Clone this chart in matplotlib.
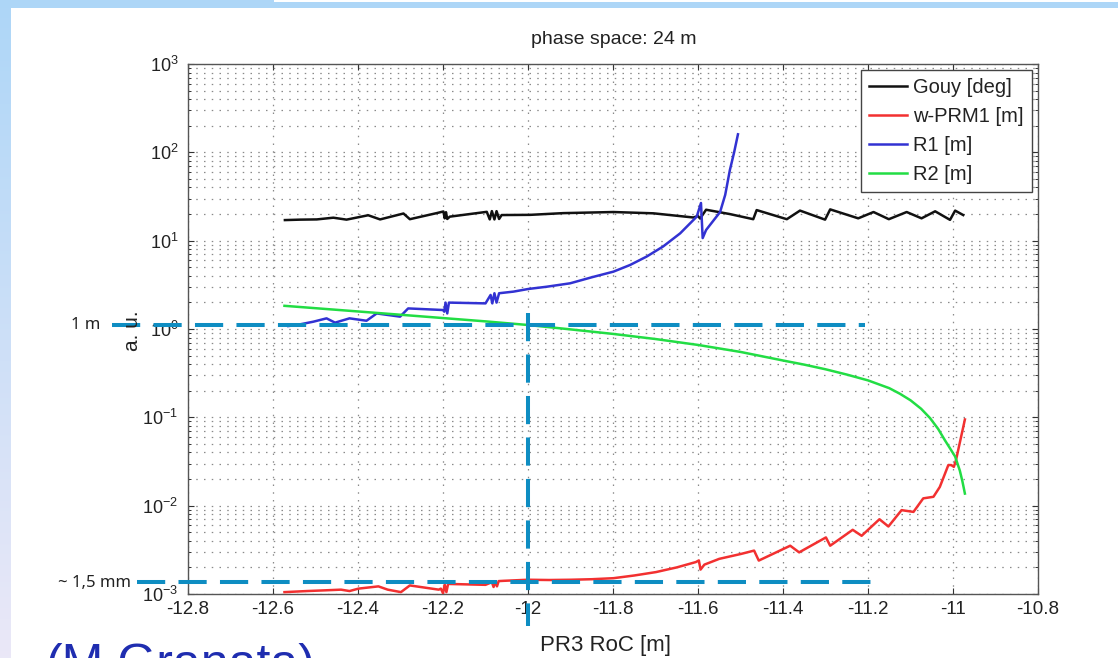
import numpy as np
import matplotlib
matplotlib.use('Agg')
import matplotlib.pyplot as plt
from matplotlib.ticker import FixedLocator, NullFormatter

# ---------------- data ----------------
gouy_x = [-12.572, -12.536, -12.497, -12.458, -12.427, -12.376, -12.348, -12.293, -12.278,
          -12.215, -12.199, -12.196, -12.193, -12.190, -12.184, -12.097, -12.090, -12.085,
          -12.079, -12.074, -12.068, -12.062, -11.995, -11.917, -11.799, -11.705, -11.611,
          -11.600, -11.595, -11.581, -11.525, -11.470, -11.462, -11.391, -11.360, -11.301,
          -11.289, -11.223, -11.187, -11.151, -11.109, -11.074, -11.042, -11.007, -10.995,
          -10.976]
gouy_y = [17.1, 17.3, 17.4, 18.2, 17.3, 19.4, 17.4, 20.3, 17.5,
          20.5, 21.4, 17.9, 21.0, 17.6, 18.7, 21.2, 17.4, 21.6,
          17.4, 21.6, 17.6, 19.5, 19.6, 20.5, 21.1, 20.4, 18.3,
          19.0, 17.8, 22.4, 20.0, 17.5, 22.2, 17.5, 21.9, 17.3,
          22.6, 17.9, 21.1, 17.5, 21.1, 17.9, 21.5, 17.2, 21.9,
          19.5]

wprm_x = [-12.573, -12.52, -12.478, -12.44, -12.42, -12.399, -12.352, -12.33, -12.299,
          -12.278, -12.21, -12.205, -12.200, -12.196, -12.192, -12.188, -12.10, -12.085,
          -12.081, -12.077, -12.073, -12.069, -12.057, -12.0, -11.95, -11.899, -11.85,
          -11.799, -11.75, -11.699, -11.65, -11.605, -11.598, -11.594, -11.585, -11.55,
          -11.499, -11.468, -11.457, -11.383, -11.362, -11.299, -11.289, -11.236, -11.215,
          -11.173, -11.152, -11.121, -11.093, -11.070, -11.046, -11.031, -11.011, -11.004,
          -10.998, -10.993, -10.972]
wprm_y = [1.05e-3, 1.08e-3, 1.10e-3, 1.12e-3, 1.08e-3, 1.15e-3, 1.22e-3, 1.12e-3, 1.05e-3,
          1.25e-3, 1.12e-3, 1.15e-3, 1.02e-3, 1.28e-3, 1.05e-3, 1.30e-3, 1.27e-3, 1.36e-3,
          1.20e-3, 1.38e-3, 1.22e-3, 1.40e-3, 1.41e-3, 1.45e-3, 1.44e-3, 1.45e-3, 1.47e-3,
          1.51e-3, 1.62e-3, 1.77e-3, 2.0e-3, 2.3e-3, 2.4e-3, 1.89e-3, 2.15e-3, 2.5e-3,
          2.84e-3, 3.10e-3, 2.39e-3, 3.52e-3, 2.96e-3, 4.37e-3, 3.52e-3, 5.33e-3, 4.56e-3,
          7.02e-3, 5.81e-3, 8.9e-3, 8.5e-3, 1.21e-2, 1.26e-2, 1.63e-2, 2.88e-2, 2.88e-2,
          2.75e-2, 3.27e-2, 9.46e-2]

r1_x = [-12.564, -12.54, -12.505, -12.474, -12.454, -12.42, -12.38, -12.356, -12.301,
        -12.282, -12.20, -12.197, -12.194, -12.190, -12.186, -12.10, -12.088, -12.084,
        -12.079, -12.074, -12.068, -12.034, -11.999, -11.956, -11.901, -11.850, -11.799,
        -11.760, -11.721, -11.682, -11.642, -11.603, -11.593, -11.589, -11.581, -11.548,
        -11.536, -11.525, -11.515, -11.506]
r1_y = [1.08, 1.12, 1.21, 1.32, 1.18, 1.32, 1.24, 1.50, 1.38,
        1.71, 1.64, 1.57, 1.99, 1.50, 1.99, 1.95, 2.43, 1.95,
        2.54, 1.99, 2.54, 2.65, 2.84, 3.01, 3.29, 3.85, 4.46,
        5.3, 6.6, 8.6, 12.1, 18.7, 26.7, 10.7, 13.2, 21.1,
        33.0, 63.0, 100.0, 160.0]

r2_x = [-12.573, -12.5, -12.4, -12.3, -12.2, -12.1, -12.0, -11.9, -11.8, -11.7, -11.6,
        -11.5, -11.4, -11.35, -11.3, -11.25, -11.2, -11.15, -11.125, -11.1, -11.075,
        -11.054, -11.035, -11.019, -11.005, -10.995, -10.984, -10.978, -10.972]
r2_y = [1.83, 1.72, 1.58, 1.45, 1.33, 1.22, 1.11, 0.99, 0.88, 0.77, 0.66,
        0.55, 0.44, 0.395, 0.35, 0.305, 0.262, 0.214, 0.185, 0.156, 0.125,
        0.098, 0.074, 0.055, 0.043, 0.036, 0.025, 0.019, 0.0137]

series_labels = ['Gouy [deg]', 'w-PRM1 [m]', 'R1 [m]', 'R2 [m]']

x_ticks = [-12.8, -12.6, -12.4, -12.2, -12.0, -11.8, -11.6, -11.4, -11.2, -11.0, -10.8]
x_tick_labels = ['-12.8', '-12.6', '-12.4', '-12.2', '-12', '-11.8', '-11.6', '-11.4',
                 '-11.2', '-11', '-10.8']
y_ticks = [1e-3, 1e-2, 1e-1, 1e0, 1e1, 1e2, 1e3]
y_tick_labels = [r'$10^{-3}$', r'$10^{-2}$', r'$10^{-1}$', r'$10^{0}$', r'$10^{1}$',
                 r'$10^{2}$', r'$10^{3}$']

# annotation lines drawn over the slide
ann_h1_x = [-12.98, -11.207]
ann_h1_y = [1.12, 1.12]
ann_h2_x = [-12.919, -11.172]
ann_h2_y = [1.36e-3, 1.36e-3]
ann_v_x = [-12.0, -12.0]
ann_v_y = [1.51, 4.3e-4]

# ---------------- figure ----------------
plt.rcParams['font.family'] = ['Liberation Sans', 'DejaVu Sans']
plt.rcParams['mathtext.fontset'] = 'custom'
plt.rcParams['mathtext.rm'] = 'Liberation Sans'
plt.rcParams['mathtext.it'] = 'Liberation Sans:italic'
plt.rcParams['mathtext.bf'] = 'Liberation Sans:bold'

W, H = 1118, 658
fig = plt.figure(figsize=(W / 100, H / 100), dpi=100)
fig.patch.set_facecolor('white')

# slide decorations: left strip gradient and top band
strip_w = 11
top = np.array([0.68, 0.84, 0.97])
bot = np.array([0.92, 0.91, 0.97])
t = np.linspace(0, 1, H)[:, None]
grad = (top[None, :] * (1 - t) + bot[None, :] * t)
strip = np.repeat(grad[:, None, :], strip_w, axis=1)
fig.figimage(strip, xo=0, yo=0, origin='upper', zorder=0)
band = np.ones((8, W, 3)) * np.array([0.68, 0.84, 0.97])
band[0:2, 274:, :] = 1.0
fig.figimage(band, xo=0, yo=H - 8, origin='upper', zorder=0)

ax = fig.add_axes([188 / W, 1 - 594 / H, 850 / W, 530 / H])
ax.set_yscale('log')
ax.set_xlim(-12.8, -10.8)
ax.set_ylim(1e-3, 1e3)

lw = 1.8
ax.plot(gouy_x, gouy_y, color='#111111', lw=lw, label=series_labels[0], zorder=3)
ax.plot(wprm_x, wprm_y, color='#f23030', lw=lw, label=series_labels[1], zorder=3)
ax.plot(r1_x, r1_y, color='#3232d2', lw=lw, label=series_labels[2], zorder=3)
ax.plot(r2_x, r2_y, color='#22dd44', lw=lw, label=series_labels[3], zorder=3)

ax.xaxis.set_major_locator(FixedLocator(x_ticks))
ax.set_xticklabels(x_tick_labels)
ax.yaxis.set_major_locator(FixedLocator(y_ticks))
ax.set_yticklabels(y_tick_labels)
minor = [m * 10.0 ** e for e in range(-3, 3) for m in range(2, 10)]
ax.yaxis.set_minor_locator(FixedLocator(minor))
ax.yaxis.set_minor_formatter(NullFormatter())

ax.tick_params(which='both', direction='in', top=True, right=True, colors='#333333')
ax.tick_params(which='major', length=4.5, width=0.8)
ax.tick_params(which='minor', length=2.5, width=0.7)
ax.tick_params(axis='x', labelsize=13.5, pad=5)
ax.tick_params(axis='y', labelsize=13, pad=7)
for lab in ax.get_xticklabels() + ax.get_yticklabels():
    lab.set_color('#222222')

grid_style = dict(linestyle=(0, (1.2, 5)), color='#8a8a8a', linewidth=0.9)
ax.grid(True, which='major', **grid_style)
ax.grid(True, which='minor', axis='y', **grid_style)
ax.set_axisbelow(True)
for s in ax.spines.values():
    s.set_color('#555555')
    s.set_linewidth(1.0)

leg = ax.legend(loc='upper right', fontsize=14.5, fancybox=False, framealpha=1,
                edgecolor='#444444', borderaxespad=0.3, handlelength=1.9,
                handletextpad=0.3, labelspacing=0.5, borderpad=0.4)
leg.get_frame().set_linewidth(1.0)
for txt in leg.get_texts():
    txt.set_color('#222222')

# texts
fig.text(614 / W, 1 - 40 / H, 'phase space: 24 m', ha='center', va='center',
         fontsize=14, color='#222222')
fig.text(606 / W, 1 - 645 / H, 'PR3 RoC [m]', ha='center', va='center',
         fontsize=16, color='#222222')
fig.text(132 / W, 1 - 331 / H, 'a. u.', ha='center', va='center', rotation=90,
         fontsize=15, color='#222222')

# annotation dashed lines (slide overlay)
ann_style = dict(color='#0e8dc2', lw=2.9, linestyle=(0, (7, 3.3)), clip_on=False,
                 solid_capstyle='butt', dash_capstyle='butt', zorder=10)
ax.plot(ann_h1_x, ann_h1_y, **ann_style)
ax.plot(ann_h2_x, ann_h2_y, **ann_style)
ax.plot(ann_v_x, ann_v_y, **ann_style)

fig.text(100 / W, 1 - 325 / H, '1 m', ha='right', va='center', fontsize=12,
         family=['Noto Sans', 'DejaVu Sans'], color='#222222')
fig.text(131 / W, 1 - 583 / H, '~ 1,5 mm', ha='right', va='center', fontsize=12,
         family=['Noto Sans', 'DejaVu Sans'], color='#222222')
fig.text(46 / W, 1 - 643 / H, '(M.Granata)', ha='left', va='top', fontsize=36,
         color='#1f2db0')

fig.savefig('out.png', dpi=100)
